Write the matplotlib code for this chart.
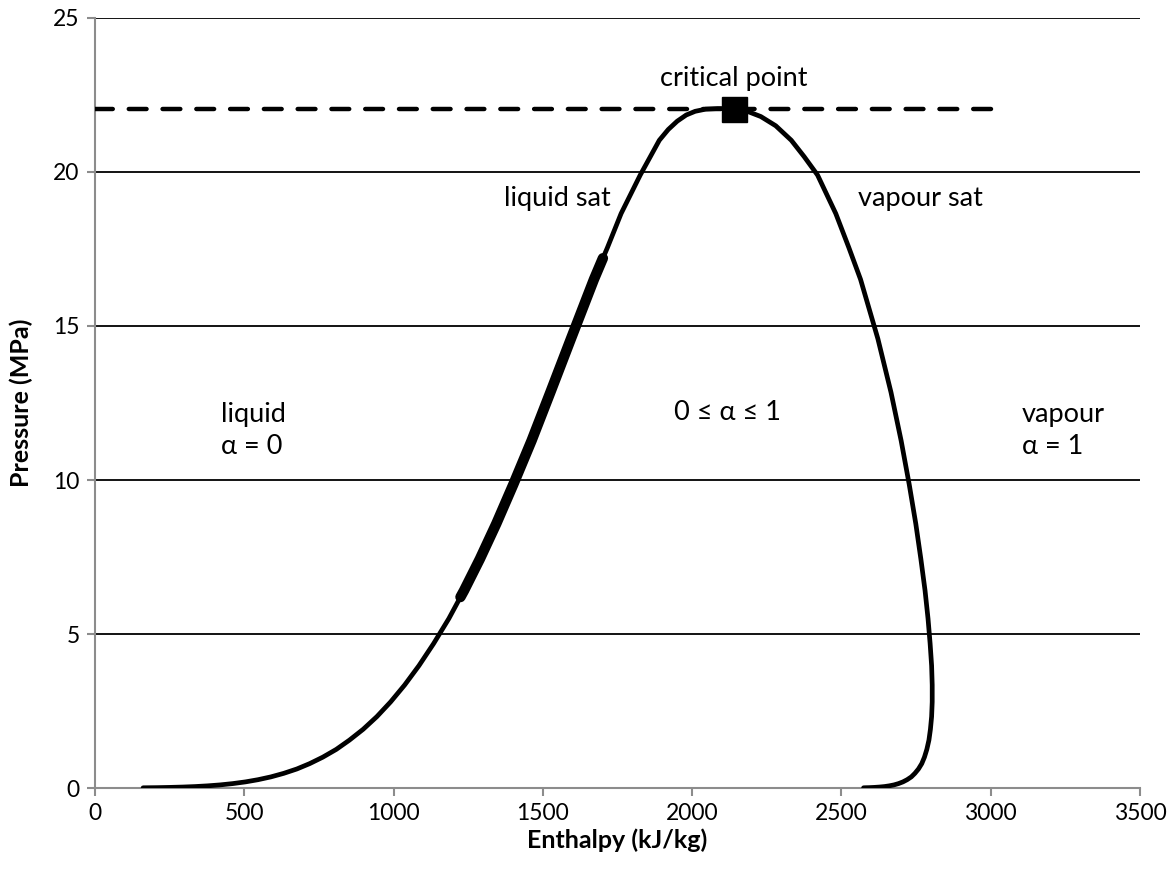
import matplotlib.pyplot as plt

plt.rcParams['font.family'] = ['Lato', 'DejaVu Sans']

# saturated liquid line (enthalpy kJ/kg, pressure MPa)
liq_h = [161, 188, 209, 251, 293, 335, 377, 419, 461, 504, 546, 589, 632, 676,
         719, 763, 808, 852, 898, 944, 990, 1037, 1085, 1134, 1185, 1224, 1236,
         1289, 1344, 1401, 1462, 1525, 1594, 1671, 1701, 1716, 1762, 1826, 1860,
         1890, 1920, 1950, 1980, 2010, 2045, 2085]
liq_p = [0.007, 0.010, 0.012, 0.020, 0.031, 0.047, 0.070, 0.101, 0.143, 0.199,
         0.270, 0.361, 0.476, 0.618, 0.792, 1.002, 1.254, 1.554, 1.906, 2.318,
         2.795, 3.344, 3.973, 4.688, 5.499, 6.2, 6.412, 7.436, 8.581, 9.856,
         11.274, 12.845, 14.586, 16.513, 17.2, 17.54, 18.651, 19.9, 20.5, 21.03,
         21.38, 21.65, 21.85, 21.97, 22.04, 22.06]

# saturated vapour line, from the top down
vap_h = [2150, 2190, 2230, 2280, 2332, 2375, 2420, 2481, 2525, 2564, 2622, 2666,
         2700, 2727, 2749, 2766, 2780, 2790, 2797, 2802, 2804, 2804, 2802, 2798,
         2793, 2786, 2778, 2769, 2758, 2746, 2734, 2720, 2706, 2691, 2676, 2660,
         2644, 2627, 2610, 2592, 2583, 2574]
vap_p = [22.06, 21.95, 21.8, 21.5, 21.03, 20.5, 19.9, 18.651, 17.54, 16.513,
         14.586, 12.845, 11.274, 9.856, 8.581, 7.436, 6.412, 5.499, 4.688, 3.973,
         3.344, 2.795, 2.318, 1.906, 1.554, 1.254, 1.002, 0.792, 0.618, 0.476,
         0.361, 0.270, 0.199, 0.143, 0.101, 0.070, 0.047, 0.031, 0.020, 0.012,
         0.010, 0.007]

# measured points lying on the liquid line (index range in liq_h)
meas_from, meas_to = 25, 34

crit_h, crit_p = 2140, 22.06
crit_line_h = [0, 3000]

fig = plt.figure(figsize=(11.76, 8.69), dpi=100)
ax = fig.add_axes([0.0808, 0.0932, 0.8886, 0.8861])

ax.plot(liq_h + vap_h, liq_p + vap_p, color="black", lw=3.4, solid_capstyle="round",
        solid_joinstyle="round", zorder=3)
ax.plot(liq_h[meas_from:meas_to + 1], liq_p[meas_from:meas_to + 1], color="black", lw=7.5,
        solid_capstyle="round", zorder=3)
ax.plot(crit_line_h, [crit_p, crit_p], color="black", lw=3.2, dashes=(4.0, 3.6),
        dash_capstyle="round", zorder=3)
ax.plot([crit_h], [crit_p], marker="s", color="black", markersize=18, zorder=4)

ax.set_xlim(0, 3500)
ax.set_ylim(0, 25)
ax.set_xticks(range(0, 3501, 500))
ax.set_yticks(range(0, 26, 5))
ax.grid(axis="y", color="black", lw=1.3)
ax.set_axisbelow(True)
for s in ["top", "right"]:
    ax.spines[s].set_visible(False)
for s in ["left", "bottom"]:
    ax.spines[s].set_color("#8c8c8c")
    ax.spines[s].set_linewidth(1.5)
ax.tick_params(direction="out", length=6, width=1.5, color="#8c8c8c", labelsize=16.5, pad=5)

ax.set_xlabel("Enthalpy (kJ/kg)", fontsize=18, fontweight="bold")
ax.set_ylabel("Pressure (MPa)", fontsize=18, fontweight="bold")
ax.xaxis.set_label_coords(0.5, -0.052)
ax.yaxis.set_label_coords(-0.059, 0.5)

fs = 19.5
ax.text(crit_h, 23.05, "critical point", fontsize=fs, ha="center", va="center")
ax.text(1547, 19.15, "liquid sat", fontsize=fs, ha="center", va="center")
ax.text(2763, 19.15, "vapour sat", fontsize=fs, ha="center", va="center")
ax.text(2117, 12.2, "0 ≤ α ≤ 1", fontsize=fs, ha="center", va="center")
ax.text(422, 11.6, "liquid\nα = 0", fontsize=fs, ha="left", va="center", linespacing=1.35)
ax.text(3104, 11.6, "vapour\nα = 1", fontsize=fs, ha="left", va="center", linespacing=1.35)

fig.savefig("out.png", dpi=100)
